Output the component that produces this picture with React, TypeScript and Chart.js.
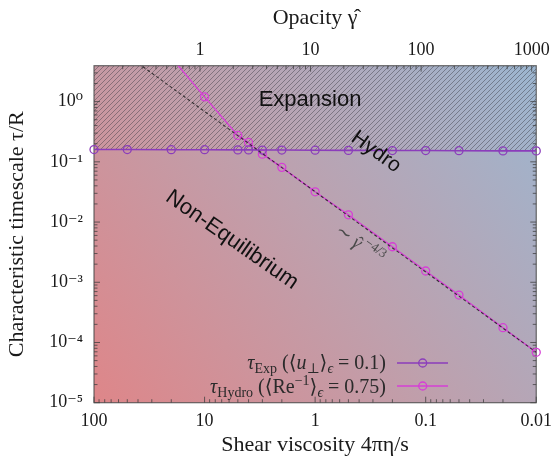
import React, { useEffect, useRef } from 'react';
import { Chart, registerables } from 'chart.js';

Chart.register(...registerables);

// ---- data ----
const viscosityExp = [100, 50, 20, 10, 5, 4, 3, 2, 1, 0.5, 0.2, 0.1, 0.05, 0.02, 0.01];
const tauExp = [0.160, 0.160, 0.159, 0.159, 0.158, 0.158, 0.157, 0.157, 0.156, 0.155, 0.154, 0.154, 0.153, 0.152, 0.152];
const viscosityHydro = [20, 10, 5, 4, 3, 2, 1, 0.5, 0.2, 0.1, 0.05, 0.02, 0.01];
const tauHydro = [5.4, 1.2, 0.275, 0.21, 0.134, 0.081, 0.0318, 0.0132, 0.00389, 0.00154, 0.000614, 0.000176, 0.0000687];
const guideViscosity = [100, 0.01];
const guideTau = [14.8, 0.0000687];

const xTicks = [100, 10, 1, 0.1, 0.01];
const xTickLabels = ['100', '10', '1', '0.1', '0.01'];
const opacityTicks = [1, 10, 100, 1000];
const opacityTickLabels = ['1', '10', '100', '1000'];
const yTicks = [1e-5, 1e-4, 1e-3, 1e-2, 1e-1, 1];
const yTickLabels = ['10⁻⁵', '10⁻⁴', '10⁻³', '10⁻²', '10⁻¹', '10⁰'];
const OPACITY_FACTOR = 11; // opacity = OPACITY_FACTOR / (4πη/s)

const X_MIN = 0.01;
const X_MAX = 100;
const Y_MIN = 1e-5;
const Y_MAX = 3.95;

const SERIF = "'Liberation Serif', 'DejaVu Serif', serif";
const SANS = "'Liberation Sans', Arial, sans-serif";
const COLOR_EXP = '#8b3dbb';
const COLOR_HYDRO = '#d63fd6';

type Seg = { t: string; size: number; italic?: boolean; dy?: number; family?: string; over?: boolean };

function segFont(s: Seg) {
  return `${s.italic ? 'italic ' : ''}${s.size}px ${s.family || SERIF}`;
}
function richWidth(ctx: CanvasRenderingContext2D, segs: Seg[]) {
  let w = 0;
  for (const s of segs) {
    if (s.over) continue;
    ctx.font = segFont(s);
    w += ctx.measureText(s.t).width;
  }
  return w;
}
function drawRich(ctx: CanvasRenderingContext2D, segs: Seg[], x: number, y: number, align: 'left' | 'right' | 'center') {
  const w = richWidth(ctx, segs);
  let cx = align === 'right' ? x - w : align === 'center' ? x - w / 2 : x;
  let prevStart = cx;
  let prevW = 0;
  ctx.textBaseline = 'alphabetic';
  for (const s of segs) {
    ctx.font = segFont(s);
    if (s.over) {
      ctx.textAlign = 'center';
      ctx.fillText(s.t, prevStart + prevW / 2 + 1, y + (s.dy || 0));
      continue;
    }
    ctx.textAlign = 'left';
    ctx.fillText(s.t, cx, y + (s.dy || 0));
    prevStart = cx;
    prevW = ctx.measureText(s.t).width;
    cx += prevW;
  }
}

function logValues(min: number, max: number) {
  const out: { v: number; major: boolean }[] = [];
  for (let e = -7; e <= 5; e++) {
    for (let m = 1; m <= 9; m++) {
      const v = m * Math.pow(10, e);
      if (v >= min * 0.9999 && v <= max * 1.0001) out.push({ v, major: m === 1 });
    }
  }
  return out;
}

function labelFor(values: number[], labels: string[], value: number) {
  const i = values.findIndex((t) => Math.abs(Math.log10(t) - Math.log10(value)) < 1e-6);
  return i >= 0 ? labels[i] : '';
}

function makeHatch(): CanvasPattern | string {
  const s = 5;
  const c = document.createElement('canvas');
  c.width = s;
  c.height = s;
  const x = c.getContext('2d');
  if (!x) return 'rgba(0,0,0,0.2)';
  x.strokeStyle = 'rgba(50,50,60,0.42)';
  x.lineWidth = 1;
  x.beginPath();
  x.moveTo(0, s);
  x.lineTo(s, 0);
  x.moveTo(-1, 1);
  x.lineTo(1, -1);
  x.moveTo(s - 1, s + 1);
  x.lineTo(s + 1, s - 1);
  x.stroke();
  return x.createPattern(c, 'repeat') || 'rgba(0,0,0,0.2)';
}

const bgPlugin = {
  id: 'bgGradient',
  beforeDraw(chart: any) {
    const { ctx, chartArea: a } = chart;
    const g = ctx.createLinearGradient(a.left, a.bottom, a.right, a.top);
    g.addColorStop(0, 'rgb(222,134,137)');
    g.addColorStop(0.5, 'rgb(190,160,173)');
    g.addColorStop(1, 'rgb(156,182,208)');
    ctx.save();
    ctx.fillStyle = g;
    ctx.fillRect(a.left, a.top, a.right - a.left, a.bottom - a.top);
    ctx.restore();
  },
};

const framePlugin = {
  id: 'frameTicks',
  beforeDatasetsDraw(chart: any) {
    const { ctx, chartArea: a, scales } = chart;
    const xs = scales.x;
    const xt = scales.x2;
    const ys = scales.y;
    ctx.save();
    ctx.strokeStyle = 'rgba(60,60,60,0.75)';
    ctx.lineWidth = 1;
    ctx.beginPath();
    for (const t of logValues(xs.min, xs.max)) {
      const p = xs.getPixelForValue(t.v);
      const L = t.major ? 6 : 3.5;
      ctx.moveTo(p, a.bottom);
      ctx.lineTo(p, a.bottom - L);
    }
    for (const t of logValues(xt.min, xt.max)) {
      const p = xt.getPixelForValue(t.v);
      const L = t.major ? 6 : 3.5;
      ctx.moveTo(p, a.top);
      ctx.lineTo(p, a.top + L);
    }
    for (const t of logValues(ys.min, ys.max)) {
      const p = ys.getPixelForValue(t.v);
      const L = t.major ? 6 : 3.5;
      ctx.moveTo(a.left, p);
      ctx.lineTo(a.left + L, p);
      ctx.moveTo(a.right, p);
      ctx.lineTo(a.right - L, p);
    }
    ctx.stroke();
    ctx.strokeStyle = 'rgba(70,70,70,0.8)';
    ctx.lineWidth = 1.2;
    ctx.strokeRect(a.left, a.top, a.right - a.left, a.bottom - a.top);
    ctx.restore();
  },
};

const annotationPlugin = {
  id: 'annotations',
  afterDatasetsDraw(chart: any) {
    const { ctx } = chart;
    ctx.save();
    ctx.fillStyle = '#111';
    // Expansion
    ctx.font = `22px ${SANS}`;
    ctx.textAlign = 'center';
    ctx.textBaseline = 'alphabetic';
    ctx.fillText('Expansion', 310, 106);

    const rotText = (text: string, cx: number, cy: number, size: number, deg: number) => {
      ctx.save();
      ctx.translate(cx, cy);
      ctx.rotate((deg * Math.PI) / 180);
      ctx.font = `${size}px ${SANS}`;
      ctx.textAlign = 'center';
      ctx.textBaseline = 'middle';
      ctx.fillText(text, 0, 0);
      ctx.restore();
    };
    rotText('Hydro', 376, 152, 21, 36);
    rotText('Non-Equilibrium', 232, 240, 22, 35);

    // guide label
    ctx.save();
    ctx.translate(360, 244);
    ctx.rotate((35.7 * Math.PI) / 180);
    ctx.fillStyle = '#4a4a4a';
    drawRich(
      ctx,
      [
        { t: '∼ ', size: 19 },
        { t: 'γ', size: 19, italic: true },
        { t: 'ˆ', size: 17, over: true, dy: -1 },
        { t: '\u2009−4/3', size: 13, dy: -8 },
      ],
      0,
      6,
      'center'
    );
    ctx.restore();

    // legend
    ctx.fillStyle = '#2a2a2a';
    const row1: Seg[] = [
      { t: 'τ', size: 20, italic: true },
      { t: 'Exp', size: 14, dy: 4 },
      { t: ' (⟨', size: 20 },
      { t: 'u', size: 20, italic: true },
      { t: '⊥', size: 14, dy: 4 },
      { t: '⟩', size: 20 },
      { t: 'ϵ', size: 14, dy: 4, italic: true },
      { t: ' = 0.1)', size: 20 },
    ];
    const row2: Seg[] = [
      { t: 'τ', size: 20, italic: true },
      { t: 'Hydro', size: 14, dy: 4 },
      { t: ' (⟨Re', size: 20 },
      { t: '−1', size: 14, dy: -8 },
      { t: '⟩', size: 20 },
      { t: 'ϵ', size: 14, dy: 4, italic: true },
      { t: ' = 0.75)', size: 20 },
    ];
    drawRich(ctx, row1, 386, 369, 'right');
    drawRich(ctx, row2, 386, 392.5, 'right');

    const sample = (y: number, color: string) => {
      ctx.strokeStyle = color;
      ctx.lineWidth = 1.6;
      ctx.beginPath();
      ctx.moveTo(397, y);
      ctx.lineTo(448, y);
      ctx.stroke();
      ctx.lineWidth = 1.3;
      ctx.beginPath();
      ctx.arc(422.7, y, 4, 0, Math.PI * 2);
      ctx.stroke();
    };
    sample(363, COLOR_EXP);
    sample(386, COLOR_HYDRO);
    ctx.restore();
  },
};

export default function App() {
  const canvasRef = useRef<HTMLCanvasElement | null>(null);

  useEffect(() => {
    document.body.style.margin = '0';
    const canvas = canvasRef.current;
    if (!canvas) return;
    const hatch = makeHatch();

    const chart = new Chart(canvas, {
      type: 'line',
      data: {
        datasets: [
          {
            label: 'guide',
            data: guideViscosity.map((v, i) => ({ x: v, y: guideTau[i] })),
            borderColor: 'rgba(30,30,30,0.85)',
            borderWidth: 1.1,
            borderDash: [3, 2.5],
            pointRadius: 0,
            fill: false,
            clip: 0,
          } as any,
          {
            label: 'τ_Exp',
            data: viscosityExp.map((v, i) => ({ x: v, y: tauExp[i] })),
            borderColor: COLOR_EXP,
            borderWidth: 1.6,
            pointRadius: 4,
            pointBorderWidth: 1.3,
            pointBorderColor: COLOR_EXP,
            pointBackgroundColor: 'rgba(0,0,0,0)',
            backgroundColor: hatch,
            fill: 'end',
            clip: { left: 6, right: 6, top: 0, bottom: 0 },
          } as any,
          {
            label: 'τ_Hydro',
            data: viscosityHydro.map((v, i) => ({ x: v, y: tauHydro[i] })),
            borderColor: COLOR_HYDRO,
            borderWidth: 1.4,
            pointRadius: 4,
            pointBorderWidth: 1.3,
            pointBorderColor: COLOR_HYDRO,
            pointBackgroundColor: 'rgba(0,0,0,0)',
            fill: false,
            clip: { left: 0, right: 6, top: 0, bottom: 0 },
          } as any,
        ],
      },
      options: {
        animation: false,
        responsive: false,
        events: [],
        layout: { padding: { left: 0, right: 17, top: 0, bottom: 0 } },
        plugins: {
          legend: { display: false },
          tooltip: { enabled: false },
          filler: { drawTime: 'beforeDatasetsDraw' },
        } as any,
        scales: {
          x: {
            type: 'logarithmic',
            position: 'bottom',
            reverse: true,
            min: X_MIN,
            max: X_MAX,
            afterBuildTicks: (s: any) => {
              s.ticks = xTicks.map((v) => ({ value: v }));
            },
            afterFit: (s: any) => {
              s.height = 56.3;
            },
            ticks: {
              autoSkip: false,
              maxRotation: 0,
              padding: 8,
              color: '#1a1a1a',
              font: { family: SERIF, size: 18 },
              callback: (v: any) => labelFor(xTicks, xTickLabels, Number(v)),
            },
            grid: { display: false, drawTicks: false },
            border: { display: false },
            title: {
              display: true,
              text: 'Shear viscosity 4πη/s',
              color: '#1a1a1a',
              font: { family: SERIF, size: 22 },
              padding: { top: 0, bottom: 0.5 },
            },
          },
          x2: {
            type: 'logarithmic',
            position: 'top',
            min: OPACITY_FACTOR / X_MAX,
            max: OPACITY_FACTOR / X_MIN,
            afterBuildTicks: (s: any) => {
              s.ticks = opacityTicks.map((v) => ({ value: v }));
            },
            afterFit: (s: any) => {
              s.height = 65.7;
            },
            ticks: {
              autoSkip: false,
              maxRotation: 0,
              padding: 5,
              color: '#1a1a1a',
              font: { family: SERIF, size: 18 },
              callback: (v: any) => labelFor(opacityTicks, opacityTickLabels, Number(v)),
            },
            grid: { display: false, drawTicks: false },
            border: { display: false },
            title: {
              display: true,
              text: 'Opacity γ̂',
              color: '#1a1a1a',
              font: { family: SERIF, size: 22 },
              padding: { top: 5.5, bottom: 0 },
            },
          },
          y: {
            type: 'logarithmic',
            position: 'left',
            min: Y_MIN,
            max: Y_MAX,
            afterBuildTicks: (s: any) => {
              s.ticks = yTicks.map((v) => ({ value: v }));
            },
            afterFit: (s: any) => {
              s.width = 94;
            },
            ticks: {
              autoSkip: false,
              padding: 11,
              color: '#1a1a1a',
              font: { family: SERIF, size: 18 },
              callback: (v: any) => labelFor(yTicks, yTickLabels, Number(v)),
            },
            grid: { display: false, drawTicks: false },
            border: { display: false },
            title: {
              display: true,
              text: 'Characteristic timescale τ/R',
              color: '#1a1a1a',
              font: { family: SERIF, size: 22 },
              padding: { top: 4.5, bottom: 0 },
            },
          },
        } as any,
      },
      plugins: [bgPlugin, framePlugin, annotationPlugin],
    });

    return () => {
      chart.destroy();
    };
  }, []);

  return (
    <div style={{ width: 560, height: 459 }}>
      <canvas ref={canvasRef} width={560} height={459} style={{ display: 'block' }} />
    </div>
  );
}
